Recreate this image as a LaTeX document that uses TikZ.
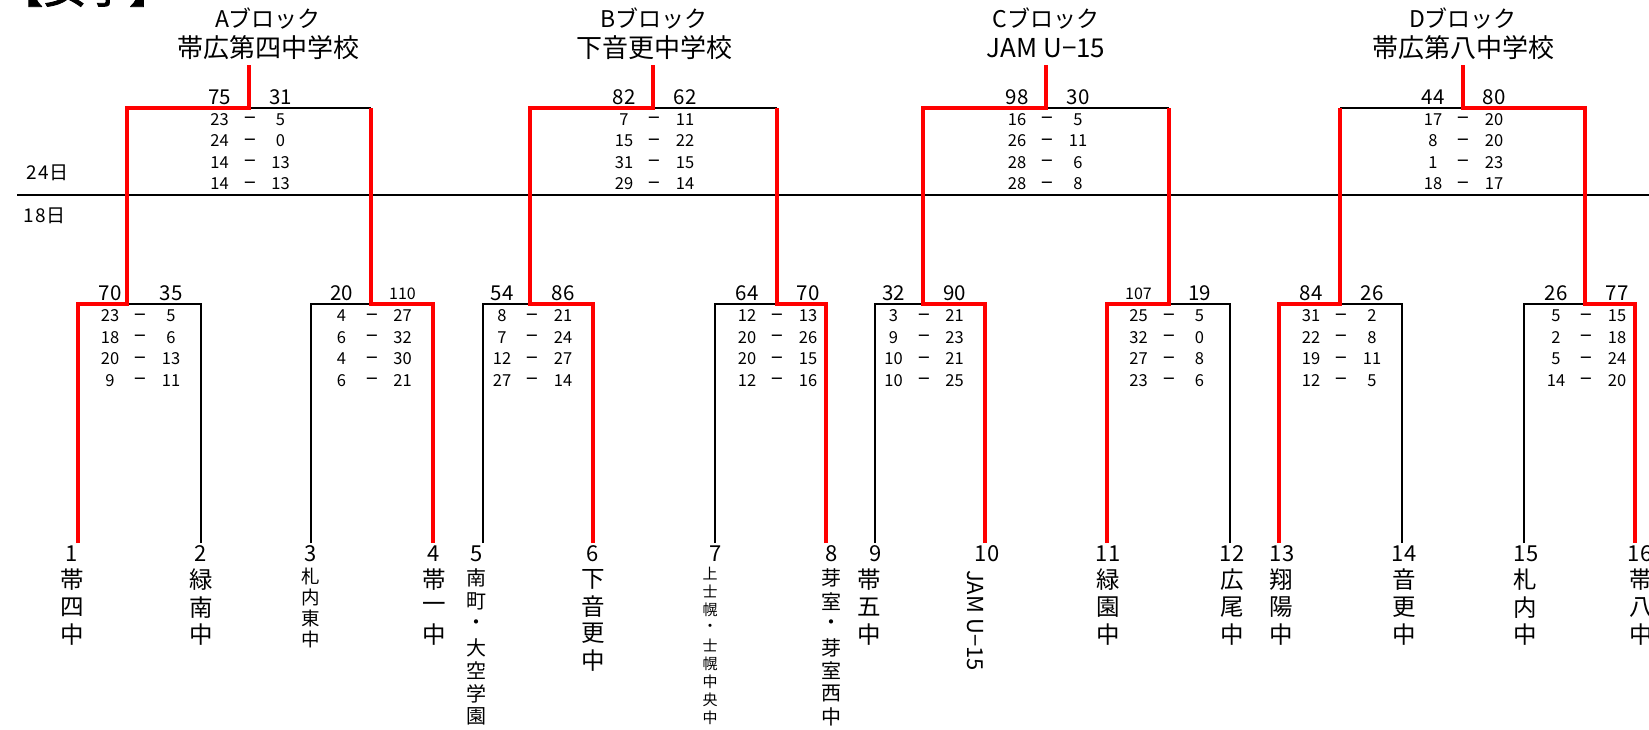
\documentclass[tikz,border=0pt]{standalone}
\usepackage{fontspec}
\setmainfont{Noto Sans CJK JP}
\newfontfamily\cjkbold{Noto Sans CJK JP}[FakeBold=2]
\newcommand\smnum{\fontsize{16}{16}\selectfont}
\tikzset{
 blk/.style={line width=1.8pt, draw=black, line join=miter},
 win/.style={line width=3.6pt, draw=red, line join=miter},
 sepline/.style={line width=1.2pt, draw=black},
 topnum/.style={inner sep=0pt, font=\fontsize{20.5}{20.5}\selectfont},
 rownum/.style={inner sep=0pt, anchor=base, font=\fontsize{16.5}{16.5}\selectfont},
 rowdash/.style={inner sep=0pt, anchor=base, font=\fontsize{21}{21}\selectfont},
 teamnum/.style={inner sep=0pt, font=\fontsize{22}{22}\selectfont},
 namech/.style={inner sep=0pt},
 titlea/.style={inner sep=0pt, font=\fontsize{23}{23}\selectfont},
 titleb/.style={inner sep=0pt, font=\fontsize{26}{26}\selectfont},
 daylbl/.style={inner sep=0pt, font=\fontsize{19}{19}\selectfont},
}
\newcommand\tname[6]{%
  \foreach \chr [count=\i from 0] in {#6}{%
    \node[namech, font=\fontsize{#4}{#4}\selectfont] (#1c\i) at (#2,{#3+\i*#5}) {\chr};
  }%
}
% row nodes are placed on the digits' baseline (centre + 6)
\newcommand\mscore[7]{%
  \node[topnum] (#1L) at ({#2-30.5},#3) {#5};
  \node[topnum] (#1R) at ({#2+30.5},#3) {#6};
  \foreach \sa/\sb [count=\i from 0] in {#7}{%
    \node[rownum] (#1a\i) at ({#2-30.5},{#4+6+\i*21.5}) {\sa};
    \node[rowdash] (#1d\i) at (#2,{#4+6.5+\i*21.5}) {−};
    \node[rownum] (#1b\i) at ({#2+30.5},{#4+6+\i*21.5}) {\sb};
  }%
}
\begin{document}
\begin{tikzpicture}[x=1pt,y=-1pt]
\useasboundingbox (0,0) rectangle (1649,730);
\fill[white] (0,0) rectangle (1649,730);

% heading (cut at top, as in the reference)
\node[anchor=base west, inner sep=0pt, font=\cjkbold\fontsize{43}{43}\selectfont] (ttl) at (0,3) {【女子】};

% day labels and separator
\node[daylbl] (d24) at (47.5,173) {2\kern1.5pt4\kern1pt日};
\node[daylbl] (d18) at (44.5,216) {1\kern1.5pt8\kern1pt日};
\coordinate (sepL) at (17,195);
\coordinate (sepR) at (1649,195);
\draw[sepline] (sepL) -- (sepR);

% block titles
\node[titlea] (hA1) at (268,18.5) {Aブロック};
\node[titleb] (hA2) at (268,47.5) {帯広第四中学校};
\node[titlea] (hB1) at (654,18.5) {Bブロック};
\node[titleb] (hB2) at (654,47.5) {下音更中学校};
\node[titlea] (hC1) at (1046,18.5) {Cブロック};
\node[titleb] (hC2) at (1046,48.5) {JAM U−15};
\node[titlea] (hD1) at (1463,18.5) {Dブロック};
\node[titleb] (hD2) at (1463,47.5) {帯広第八中学校};

% coordinates: team tops and round-1 corners
\foreach \k/\tx in {1/78,2/201,3/311,4/433,5/483,6/593,7/715,8/826,9/875,10/985,11/1107,12/1230,13/1279,14/1402,15/1524,16/1635}{
  \coordinate (t\k) at (\tx,543);
  \coordinate (h\k) at (\tx,304);
}
% match stubs
\foreach \k/\sx in {1/127,2/371,3/530,4/777,5/923,6/1169,7/1340,8/1585}{
  \coordinate (s\k) at (\sx,304);
  \coordinate (u\k) at (\sx,108);
}
% block final stubs
\foreach \b/\bx in {A/249,B/653,C/1046,D/1463}{
  \coordinate (c\b) at (\bx,108);
  \coordinate (k\b) at (\bx,65);
}

% black lines
\draw[blk] (t1) -- (h1) -- (h2) -- (t2);
\draw[blk] (t3) -- (h3) -- (h4) -- (t4);
\draw[blk] (t5) -- (h5) -- (h6) -- (t6);
\draw[blk] (t7) -- (h7) -- (h8) -- (t8);
\draw[blk] (t9) -- (h9) -- (h10) -- (t10);
\draw[blk] (t11) -- (h11) -- (h12) -- (t12);
\draw[blk] (t13) -- (h13) -- (h14) -- (t14);
\draw[blk] (t15) -- (h15) -- (h16) -- (t16);
\draw[blk] (u1) -- (u2);
\draw[blk] (u3) -- (u4);
\draw[blk] (u5) -- (u6);
\draw[blk] (u7) -- (u8);

% winners (red)
\draw[win] (t1) -- (h1) -- (s1) -- (u1) -- (cA) -- (kA);
\draw[win] (t4) -- (h4) -- (s2) -- (u2);
\draw[win] (t6) -- (h6) -- (s3) -- (u3) -- (cB) -- (kB);
\draw[win] (t8) -- (h8) -- (s4) -- (u4);
\draw[win] (t10) -- (h10) -- (s5) -- (u5) -- (cC) -- (kC);
\draw[win] (t11) -- (h11) -- (s6) -- (u6);
\draw[win] (t13) -- (h13) -- (s7) -- (u7);
\draw[win] (t16) -- (h16) -- (s8) -- (u8) -- (cD) -- (kD);

% scores: block finals
\mscore{fA}{250}{97.5}{119.3}{75}{31}{23/5,24/0,14/13,14/13}
\mscore{fB}{654.5}{97.5}{119.3}{82}{62}{7/11,15/22,31/15,29/14}
\mscore{fC}{1047.5}{97.5}{119.3}{98}{30}{16/5,26/11,28/6,28/8}
\mscore{fD}{1463.5}{97.5}{119.3}{44}{80}{17/20,8/20,1/23,18/17}
% scores: round 1
\mscore{rA}{140.5}{293.3}{315.7}{70}{35}{23/5,18/6,20/13,9/11}
\mscore{rB}{372}{293.3}{315.7}{20}{\smnum 110}{4/27,6/32,4/30,6/21}
\mscore{rC}{532.5}{293.3}{315.7}{54}{86}{8/21,7/24,12/27,27/14}
\mscore{rD}{777.5}{293.3}{315.7}{64}{70}{12/13,20/26,20/15,12/16}
\mscore{rE}{924}{293.3}{315.7}{32}{90}{3/21,9/23,10/21,10/25}
\mscore{rF}{1169}{293.3}{315.7}{\smnum 107}{19}{25/5,32/0,27/8,23/6}
\mscore{rG}{1341.5}{293.3}{315.7}{84}{26}{31/2,22/8,19/11,12/5}
\mscore{rH}{1586.5}{293.3}{315.7}{26}{77}{5/15,2/18,5/24,14/20}

% team numbers
\foreach \nx/\num in {72/1,201/2,311/3,434/4,477/5,593/6,716/7,832/8,876/9,987/10,1108/11,1232/12,1282/13,1404/14,1526/15,1640/16}{
  \node[teamnum] (no\num) at (\nx,553.5) {\num};
}

% team names (vertical)
\tname{n1}{72}{580}{23.5}{27.5}{帯,四,中}
\tname{n2}{201}{580}{23.5}{27.5}{緑,南,中}
\tname{n3}{311}{576.7}{18.5}{20.9}{札,内,東,中}
\tname{n4}{434}{580}{23.5}{27.5}{帯,一,中}
\tname{n5}{476}{578.3}{20}{23.06}{南,町,・,大,空,学,園}
\tname{n6}{593}{579}{23.5}{27.3}{下,音,更,中}
\tname{n7}{710}{573.3}{15}{18.1}{上,士,幌,・,士,幌,中,央,中}
\tname{n8}{831}{578.3}{20}{23.06}{芽,室,・,芽,室,西,中}
\tname{n9}{869}{580}{23.5}{27.5}{帯,五,中}
\node[rotate=-90, anchor=west, inner sep=0pt, font=\fontsize{22}{22}\selectfont] (n10) at (975,570) {JAM U−15};
\tname{n11}{1108}{580}{23.5}{27.5}{緑,園,中}
\tname{n12}{1232}{580}{23.5}{27.5}{広,尾,中}
\tname{n13}{1281}{580}{23.5}{27.5}{翔,陽,中}
\tname{n14}{1404}{580}{23.5}{27.5}{音,更,中}
\tname{n15}{1525}{580}{23.5}{27.5}{札,内,中}
\tname{n16}{1641}{580}{23.5}{27.5}{帯,八,中}
\end{tikzpicture}
\end{document}
